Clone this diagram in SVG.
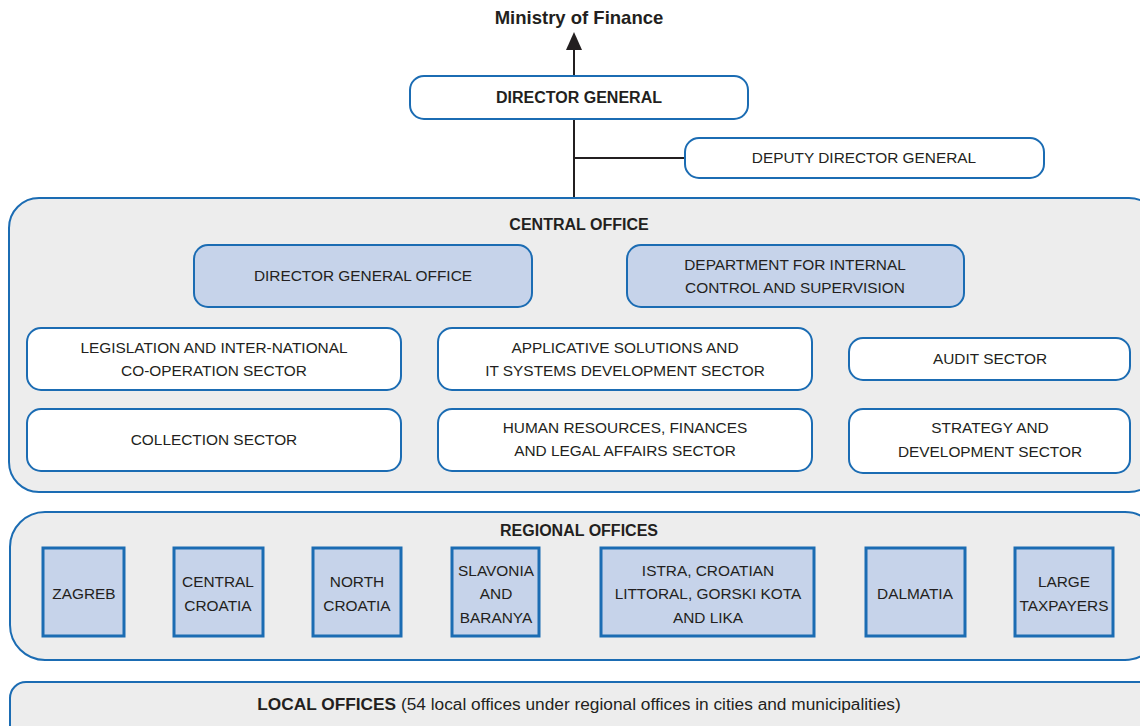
<svg xmlns="http://www.w3.org/2000/svg" width="1140" height="726" viewBox="0 0 1140 726">
<defs>
<style>
.t{font-family:"Liberation Sans",Arial,sans-serif;font-size:15.4px;fill:#231f20;text-anchor:middle}
.b{font-weight:bold;font-size:16px}
.w{fill:#ffffff;stroke:#1b6cb3;stroke-width:2}
.l{fill:#c6d3ea;stroke:#1b6cb3;stroke-width:2}
.g{fill:#ededed;stroke:#1b6cb3;stroke-width:2}
.sq{fill:#c6d3ea;stroke:#1b6cb3;stroke-width:3}
.c{stroke:#231f20;stroke-width:2;fill:none}
</style>
</defs>
<g id="connectors">
<line class="c" x1="574" y1="76" x2="574" y2="40"/>
<path d="M566,50 L574,32 L582,50 Z" fill="#231f20"/>
<line class="c" x1="574" y1="119" x2="574" y2="198"/>
<line class="c" x1="574" y1="158" x2="685" y2="158"/>
</g>
<g id="ministry"><text class="t b" x="579" y="23.5" style="font-size:18.5px">Ministry of Finance</text></g>
<g id="director-general"><rect class="w" x="410" y="76" width="338" height="43" rx="14"/><text class="t b" x="579" y="103">DIRECTOR GENERAL</text></g>
<g id="deputy"><rect class="w" x="685" y="138" width="359" height="40" rx="14"/><text class="t" x="864" y="163">DEPUTY DIRECTOR GENERAL</text></g>
<g id="central-office">
<rect class="g" x="9" y="198" width="1150" height="294" rx="30"/>
<text class="t b" x="579" y="230">CENTRAL OFFICE</text>
</g>
<g id="dg-office"><rect class="l" x="194" y="245" width="338" height="62" rx="14"/><text class="t" x="363" y="281">DIRECTOR GENERAL OFFICE</text></g>
<g id="internal-control"><rect class="l" x="627" y="245" width="337" height="62" rx="14"/><text class="t" x="795" y="270">DEPARTMENT FOR INTERNAL</text><text class="t" x="795" y="293">CONTROL AND SUPERVISION</text></g>
<g id="legislation"><rect class="w" x="27" y="328" width="374" height="62" rx="14"/><text class="t" x="214" y="353">LEGISLATION AND INTER-NATIONAL</text><text class="t" x="214" y="376">CO-OPERATION SECTOR</text></g>
<g id="applicative"><rect class="w" x="438" y="328" width="374" height="62" rx="14"/><text class="t" x="625" y="353">APPLICATIVE SOLUTIONS AND</text><text class="t" x="625" y="376">IT SYSTEMS DEVELOPMENT SECTOR</text></g>
<g id="audit"><rect class="w" x="849" y="338" width="281" height="42" rx="14"/><text class="t" x="990" y="364">AUDIT SECTOR</text></g>
<g id="collection"><rect class="w" x="27" y="409" width="374" height="62" rx="14"/><text class="t" x="214" y="445">COLLECTION SECTOR</text></g>
<g id="hr"><rect class="w" x="438" y="409" width="374" height="62" rx="14"/><text class="t" x="625" y="433">HUMAN RESOURCES, FINANCES</text><text class="t" x="625" y="456">AND LEGAL AFFAIRS SECTOR</text></g>
<g id="strategy"><rect class="w" x="849" y="409" width="281" height="64" rx="14"/><text class="t" x="990" y="433">STRATEGY AND</text><text class="t" x="990" y="457">DEVELOPMENT SECTOR</text></g>
<g id="regional-offices">
<rect class="g" x="10" y="512" width="1150" height="148" rx="35"/>
<text class="t b" x="579" y="536">REGIONAL OFFICES</text>
</g>
<g id="zagreb"><rect class="sq" x="43" y="548" width="81" height="88"/><text class="t" x="84" y="599">ZAGREB</text></g>
<g id="central-croatia"><rect class="sq" x="174" y="548" width="89" height="88"/><text class="t" x="218" y="587">CENTRAL</text><text class="t" x="218" y="611">CROATIA</text></g>
<g id="north-croatia"><rect class="sq" x="313" y="548" width="88" height="88"/><text class="t" x="357" y="587">NORTH</text><text class="t" x="357" y="611">CROATIA</text></g>
<g id="slavonia"><rect class="sq" x="452" y="548" width="87" height="88"/><text class="t" x="496" y="576">SLAVONIA</text><text class="t" x="496" y="599">AND</text><text class="t" x="496" y="623">BARANYA</text></g>
<g id="istra"><rect class="sq" x="601" y="548" width="213" height="88"/><text class="t" x="708" y="576">ISTRA, CROATIAN</text><text class="t" x="708" y="599">LITTORAL, GORSKI KOTA</text><text class="t" x="708" y="623">AND LIKA</text></g>
<g id="dalmatia"><rect class="sq" x="866" y="548" width="99" height="88"/><text class="t" x="915" y="599">DALMATIA</text></g>
<g id="large-taxpayers"><rect class="sq" x="1015" y="548" width="98" height="88"/><text class="t" x="1064" y="587">LARGE</text><text class="t" x="1064" y="611">TAXPAYERS</text></g>
<g id="local-offices">
<rect class="g" x="10" y="682" width="1150" height="70" rx="16"/>
<text class="t" x="579" y="710" style="font-size:17.3px"><tspan style="font-weight:bold">LOCAL OFFICES</tspan> (54 local offices under regional offices in cities and municipalities)</text>
</g>
</svg>
